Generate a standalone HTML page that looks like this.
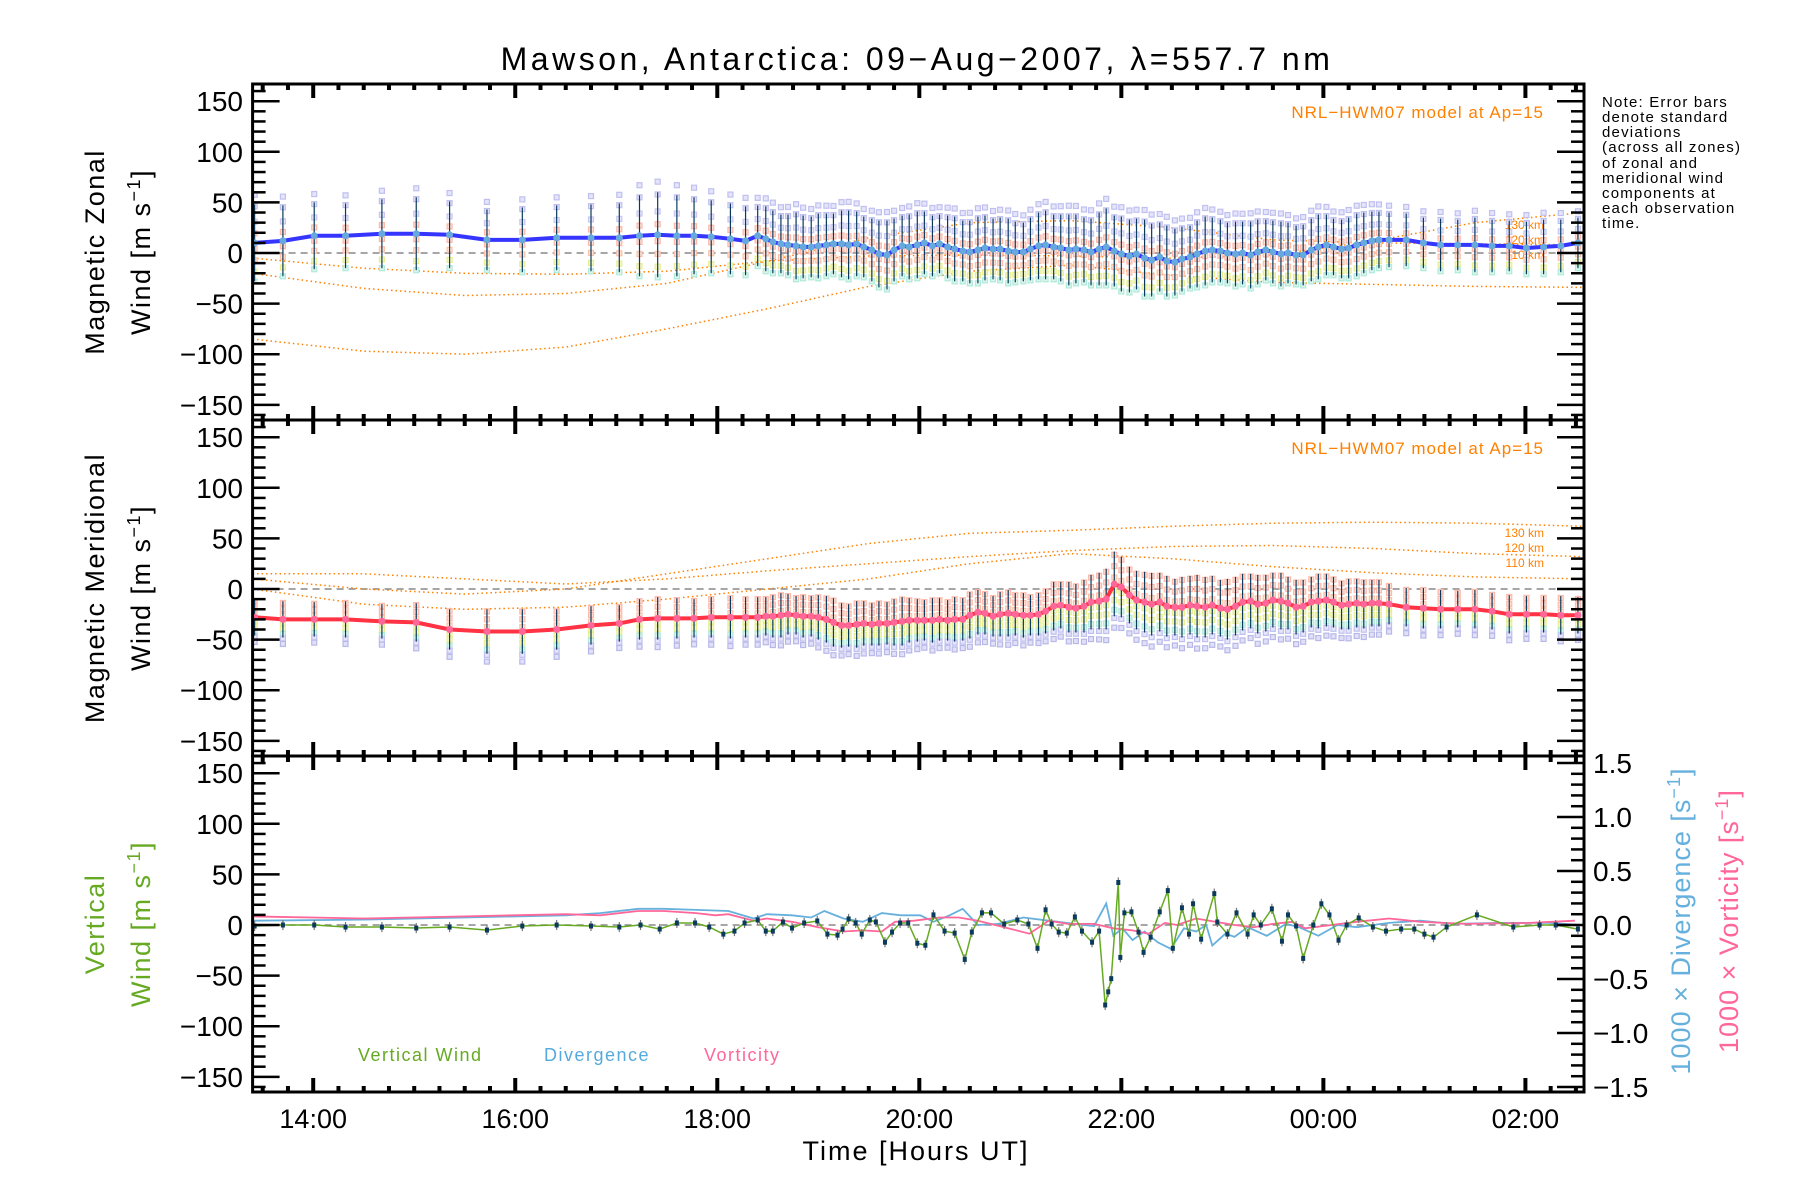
<!DOCTYPE html>
<html><head><meta charset="utf-8"><title>Mawson winds</title>
<style>
html,body{margin:0;padding:0;background:#fff;}
svg{display:block;font-family:"Liberation Sans",sans-serif;}
</style></head>
<body>
<svg id="chart" width="1800" height="1200" viewBox="0 0 1800 1200" xmlns="http://www.w3.org/2000/svg">
<rect x="0" y="0" width="1800" height="1200" fill="#fff"/>
<text x="917" y="70" font-size="32" letter-spacing="3.5" text-anchor="middle" fill="#000">Mawson, Antarctica: 09−Aug−2007, λ=557.7 nm</text>
<g font-size="15" letter-spacing="1.2" fill="#000">
<text x="1602" y="107">Note: Error bars</text>
<text x="1602" y="122">denote standard</text>
<text x="1602" y="137">deviations</text>
<text x="1602" y="152">(across all zones)</text>
<text x="1602" y="168">of zonal and</text>
<text x="1602" y="183">meridional wind</text>
<text x="1602" y="198">components at</text>
<text x="1602" y="213">each observation</text>
<text x="1602" y="228">time.</text>
</g>
<text transform="translate(104,252) rotate(-90)" font-size="27" letter-spacing="1.5" text-anchor="middle">Magnetic Zonal</text>
<text transform="translate(150,252) rotate(-90)" font-size="27" letter-spacing="1.5" text-anchor="middle">Wind [m s<tspan dy="-10" font-size="18">−1</tspan><tspan dy="10">]</tspan></text>
<text transform="translate(104,588) rotate(-90)" font-size="27" letter-spacing="1.5" text-anchor="middle">Magnetic Meridional</text>
<text transform="translate(150,588) rotate(-90)" font-size="27" letter-spacing="1.5" text-anchor="middle">Wind [m s<tspan dy="-10" font-size="18">−1</tspan><tspan dy="10">]</tspan></text>
<text transform="translate(104,924) rotate(-90)" font-size="27" letter-spacing="1.5" text-anchor="middle" fill="#66aa22">Vertical</text>
<text transform="translate(150,924) rotate(-90)" font-size="27" letter-spacing="1.5" text-anchor="middle" fill="#66aa22">Wind [m s<tspan dy="-10" font-size="18">−1</tspan><tspan dy="10">]</tspan></text>
<text transform="translate(1690,921) rotate(-90)" font-size="27" letter-spacing="1" text-anchor="middle" fill="#66b0dd">1000 × Divergence [s<tspan dy="-10" font-size="18">−1</tspan><tspan dy="10">]</tspan></text>
<text transform="translate(1738,921) rotate(-90)" font-size="27" letter-spacing="1" text-anchor="middle" fill="#ff6699">1000 × Vorticity [s<tspan dy="-10" font-size="18">−1</tspan><tspan dy="10">]</tspan></text>
<text x="916" y="1160" font-size="27" letter-spacing="2" text-anchor="middle">Time [Hours UT]</text>
<text x="1544" y="118" font-size="17" letter-spacing="1" text-anchor="end" fill="#ff8000">NRL−HWM07 model at Ap=15</text>
<text x="1544" y="454" font-size="17" letter-spacing="1" text-anchor="end" fill="#ff8000">NRL−HWM07 model at Ap=15</text>
<g font-size="12" fill="#ff8000" text-anchor="end">
<text x="1544" y="229">130 km</text><text x="1544" y="244">120 km</text><text x="1544" y="259">110 km</text>
</g>
<g font-size="12" fill="#ff8000" text-anchor="end">
<text x="1544" y="537">130 km</text><text x="1544" y="552">120 km</text><text x="1544" y="567">110 km</text>
</g>
<text x="358" y="1061" font-size="18" letter-spacing="1.5" fill="#66aa22">Vertical Wind</text>
<text x="544" y="1061" font-size="18" letter-spacing="1.5" fill="#55aadd">Divergence</text>
<text x="704" y="1061" font-size="18" letter-spacing="1.5" fill="#ff6699">Vorticity</text>
</svg>
<script>
// ---- data ----
const obsTime = [13.42,13.70,14.01,14.32,14.68,15.02,15.35,15.72,16.07,16.41,16.75,17.03,17.23,17.41,17.60,17.77,17.94,18.13,18.28,
18.40,18.48,18.55,18.63,18.70,18.78,18.85,18.93,19.00,19.08,19.15,19.23,19.30,19.38,19.45,19.53,19.60,19.68,19.75,19.83,19.90,19.98,20.05,20.13,20.20,20.28,20.35,20.43,20.50,20.58,20.65,20.73,20.80,20.88,20.95,21.03,21.10,21.18,21.25,21.33,21.40,21.48,21.55,21.63,21.70,21.78,21.85,21.93,22.00,22.08,22.15,22.23,22.30,22.38,22.45,22.53,22.60,22.68,22.75,22.83,22.90,22.98,23.05,23.13,23.20,23.28,23.35,23.43,23.50,23.58,23.65,23.73,23.80,23.88,23.95,24.03,24.10,24.18,24.25,24.33,24.40,24.48,24.55,
24.65,24.82,24.99,25.16,25.33,25.50,25.67,25.84,26.01,26.18,26.35,26.52];
const zonalMean = [10,12,17,17,19,19,18,13,13,15,15,15,17,18,17,17,16,14,12,
17,14,11,9,8,7,6,6, 7,8,9,9,8,9,6,3, -1,-2,3,7,6,8,10,7, 9,6,4,2,1,3,5,4, 4,2,1,1,4,7,8,6, 5,3,4,3,1,4,6,2, -1,-3,-1,-5,-7,-4,-8,-9, -6,-4,-1,2,3,2,0,-1, 0,-2,1,3,1,-1,0,-2, -2,3,6,8,6,4,5,8, 10,12,13,
13,13,10,8,8,8,7,7,5,6,7,10];
const zonalSd = [38,35,33,32,34,36,33,30,32,32,33,34,40,42,40,38,36,35,34,
30,32,31,29,30,33,31,30, 32,31,30,33,34,32,30,31, 33,34,31,30,32,33,31,30, 29,31,32,30,31,33,32,30, 31,32,30,29,31,33,34,32, 33,35,34,32,33,36,38,35, 37,36,35,38,36,34,35,33, 32,31,33,34,32,31,30,32, 31,33,32,30,31,32,30,29, 30,31,32,30,28,29,30,31, 30,29,28,
27,26,25,26,25,27,26,25,26,27,26,25];
const meridMean = [-28,-30,-30,-30,-32,-33,-40,-42,-42,-40,-36,-34,-30,-29,-29,-29,-28,-28,-28,
-28,-27,-27,-26,-25,-26,-27,-27, -28,-30,-33,-36,-36,-35,-34,-35, -34,-34,-33,-32,-31,-31,-31,-31, -30,-31,-30,-30,-26,-23,-24,-27, -25,-24,-25,-26,-26,-25,-22,-17, -16,-18,-19,-17,-13,-12,-10,5, 2,-6,-11,-13,-15,-13,-17,-18, -18,-16,-17,-18,-16,-19,-20,-17, -13,-12,-15,-14,-11,-12,-14,-18, -17,-13,-12,-11,-13,-16,-15,-14, -15,-14,-14,
-15,-18,-19,-20,-20,-20,-22,-25,-25,-25,-26,-26];
const meridSd = [18,18,17,18,17,19,20,22,22,20,19,18,20,21,20,19,20,21,20,
20,19,21,22,20,19,21,20, 22,23,24,22,21,23,22,21, 22,21,23,24,22,21,20,22, 21,20,22,21,23,22,21,20, 22,23,21,22,20,21,22,24, 23,25,24,26,27,28,30,32, 30,28,29,30,31,29,30,28, 30,29,31,30,29,28,30,29, 28,27,29,28,27,28,26,27, 26,25,27,26,25,24,25,24, 24,23,23,
20,19,20,19,18,19,18,19,18,18,19,18];
const vertTime = [13.42,13.70,14.01,14.32,14.68,15.02,15.35,15.72,16.07,16.41,16.75,
17.03,17.24,17.43,17.60,17.78,17.92,18.06,18.17,18.27,18.40,18.48,18.55,18.65,18.74,18.86,18.99,19.09,19.19,19.24,19.30,19.37,19.43,19.51,19.57,19.66,19.73,19.81,19.89,19.98,20.06,20.14,20.25,20.35,20.45,20.52,20.62,20.71,20.84,20.97,21.08,21.17,21.25,21.31,21.38,21.46,21.54,21.61,21.71,21.78,21.84,21.87,21.90,21.97,21.99,22.03,22.10,22.17,22.22,22.29,22.38,22.46,22.51,22.60,22.67,22.71,22.79,22.92,22.95,23.05,23.14,23.25,23.31,23.38,23.49,23.59,23.65,23.73,23.80,23.90,23.98,24.06,24.15,24.23,24.35,24.49,24.62,24.77,24.90,25.00,25.09,25.22,25.52,25.88,26.14,26.30,26.52];
const vertWind = [-1,0,0,-2,-2,-3,-2,-5,-1,0,-1,
-2,0,-4,2,2,-2,-9,-6,2,5,-6,-6,3,-3,2,4,-9,-10,-4,6,2,-9,5,3,-17,-7,2,2,-18,-20,10,-6,-8,-34,-7,12,12,1,5,1,-23,15,1,-7,-8,8,-6,-17,-6,-79,-66,-53,42,-32,12,13,-7,-27,-12,13,34,-23,17,-9,21,-14,31,3,-9,12,-9,10,0,16,-16,10,-1,-33,0,21,10,-15,0,7,-2,-6,-4,-4,-9,-12,-2,10,-2,0,0,-4];
const divTime = [13.40,14.50,15.50,16.50,16.84,17.22,17.47,17.79,18.11,18.36,18.49,18.74,18.93,19.06,19.25,19.44,19.63,19.82,20.01,20.14,20.30,20.43,20.58,20.78,21.03,21.28,21.54,21.73,21.85,21.92,22.01,22.11,22.23,22.36,22.49,22.62,22.74,22.84,22.90,23.03,23.12,23.25,23.44,23.63,23.76,23.95,24.14,24.33,24.65,24.96,25.28,25.73,26.23,26.55];
const divergence = [0.04,0.05,0.07,0.09,0.11,0.15,0.15,0.14,0.13,0.06,0.10,0.09,0.07,0.13,0.06,0.03,0.11,0.09,0.09,0.03,0.09,0.15,0.00,0.01,0.07,0.04,0.01,-0.01,0.20,-0.10,-0.03,-0.14,-0.06,-0.16,-0.22,-0.03,-0.06,0.00,-0.19,-0.08,-0.11,-0.02,-0.10,0.01,-0.02,-0.10,0.00,-0.02,0.02,0.04,0.01,0.02,0.02,0.00];
const vortTime = [13.40,14.50,15.50,16.50,16.84,17.22,17.47,17.79,17.98,18.11,18.36,18.49,18.74,19.00,19.25,19.44,19.63,19.76,19.95,20.20,20.39,20.58,20.84,21.09,21.28,21.47,21.73,21.92,22.11,22.27,22.43,22.55,22.74,22.93,23.12,23.31,23.50,23.69,23.82,24.08,24.33,24.65,24.96,25.41,26.04,26.49];
const vorticity = [0.08,0.06,0.08,0.10,0.09,0.13,0.13,0.11,0.09,0.10,0.04,0.06,0.03,-0.02,-0.06,-0.05,-0.06,0.03,0.04,0.07,0.07,0.04,-0.02,-0.08,0.04,0.01,0.01,-0.03,-0.05,-0.08,0.02,0.00,0.06,0.03,0.00,-0.02,0.01,0.03,-0.03,0.00,0.03,0.06,0.03,0.01,0.02,0.04];
const modelTime = [13.4,14.5,15.5,16.5,17.5,18.5,19.5,20.5,21.5,22.5,23.5,24.5,25.5,26.58];
const zonal110 = [-85,-97,-100,-93,-75,-55,-33,-18,-12,-22,-29,-31,-33,-34];
const zonal120 = [-20,-35,-42,-40,-30,-8,15,30,32,25,13,10,9,8];
const zonal130 = [-5,-15,-20,-21,-18,-8,-3,-2,-3,-5,-2,12,30,40];
const merid130 = [10,0,-5,0,15,30,45,55,58,62,65,66,65,62];
const merid120 = [15,15,10,5,10,18,25,32,38,42,43,40,35,32];
const merid110 = [0,-15,-20,-18,-10,0,10,25,35,30,22,16,12,10];
const yTickVals = [150,100,50,0,-50,-100,-150];
const yTickLabels = ['150','100','50','0','−50','−100','−150'];
const rTickVals = [1.5,1.0,0.5,0.0,-0.5,-1.0,-1.5];
const rTickLabels = ['1.5','1.0','0.5','0.0','−0.5','−1.0','−1.5'];
const xTickVals = [14,16,18,20,22,24,26];
const xTickLabels = ['14:00','16:00','18:00','20:00','22:00','00:00','02:00'];

// ---- axes ----
const NS='http://www.w3.org/2000/svg';
const svg=document.getElementById('chart');
const P=[84,420,756], PH=336, L=252.6, R=1584, XMIN=13.4, XMAX=26.58, VTOP=167, VSPAN=332;
function X(h){return L+(h-XMIN)*(R-L)/(XMAX-XMIN);}
function Y(v,p){return P[p]+(VTOP-v)*PH/VSPAN;}
function YR(v){return Y(0,2)-v*108;}
function mk(tag,attrs,parent){const e=document.createElementNS(NS,tag);for(const k in attrs)e.setAttribute(k,attrs[k]);(parent||svg).appendChild(e);return e;}
function ptsStr(ts,vs,f){return ts.map((t,i)=>X(t).toFixed(1)+','+f(vs[i]).toFixed(1)).join(' ');}

const plots=[];
for(let p=0;p<3;p++){
  const g=mk('g',{});
  
  
  plots.push(g);
  const z=mk('line',{x1:L,x2:R,y1:Y(0,p),y2:Y(0,p),stroke:'#888','stroke-width':1.5,'stroke-dasharray':'7,5'},g);
  
  
}

const modelSets=[[0,zonal110,'zonal-model-110km'],[0,zonal120,'zonal-model-120km'],[0,zonal130,'zonal-model-130km'],[1,merid130,'meridional-model-130km'],[1,merid120,'meridional-model-120km'],[1,merid110,'meridional-model-110km']];
modelSets.forEach(ms=>{
  const e=mk('polyline',{points:ptsStr(modelTime,ms[1],v=>Y(v,ms[0])),fill:'none',stroke:'#ff8000','stroke-width':1.5,'stroke-dasharray':'1.5,3'},plots[ms[0]]);
  
  
});

const zoneOff=[[1.25,'#c0c0f0','#e4e4fa'],[0.95,'#c0c0f0','#e4e4fa'],[0.55,'#c8c8f2','#e8e8fb'],[0.25,'#ffb8a8','#ffe0d8'],[-0.15,'#ffb8a8','#ffe0d8'],[-0.45,'#ffc0a8','#ffe4d8'],[-0.75,'#e8ee90','#f6f8cc'],[-1.0,'#b0eada','#dcf6ee']];
const meridOff=[[0.9,'#ffb8a8','#ffe0d8'],[0.55,'#ffb8a8','#ffe0d8'],[0.2,'#ffc0a8','#ffe4d8'],[-0.2,'#e8ee90','#f6f8cc'],[-0.5,'#e8ee90','#f6f8cc'],[-0.8,'#b0eada','#dcf6ee'],[-1.05,'#c0c0f0','#e4e4fa'],[-1.35,'#b8b8e8','#e0e0f8']];
function drawComp(p,mean,sd,offs,lineCol,dotCol,nm){
  const g=plots[p];
  obsTime.forEach((t,i)=>{
    offs.forEach(o=>{
      const r=mk('rect',{x:X(t)-2.5,y:Y(mean[i]+o[0]*sd[i],p)-2.5,width:5,height:5,fill:o[2],stroke:o[1],'stroke-width':1.2},g);
      
      
    });
  });
  obsTime.forEach((t,i)=>{
    const l=mk('line',{x1:X(t),x2:X(t),y1:Y(mean[i]+sd[i],p),y2:Y(mean[i]-sd[i],p),stroke:'#0b3a5c','stroke-width':1.2},g);
    
    
  });
  const pl=mk('polyline',{points:ptsStr(obsTime,mean,v=>Y(v,p)),fill:'none',stroke:lineCol,'stroke-width':4},g);
  
  
  obsTime.forEach((t,i)=>{
    const c=mk('circle',{cx:X(t),cy:Y(mean[i],p),r:3.5,fill:dotCol},g);
    
    
  });
}
drawComp(0,zonalMean,zonalSd,zoneOff,'#3535ff','#66aadd','zonal');
drawComp(1,meridMean,meridSd,meridOff,'#ff3344','#ff6699','meridional');

const divL=mk('polyline',{points:ptsStr(divTime,divergence,YR),fill:'none',stroke:'#66b0dd','stroke-width':1.8},plots[2]);


const vorL=mk('polyline',{points:ptsStr(vortTime,vorticity,YR),fill:'none',stroke:'#ff6699','stroke-width':1.8},plots[2]);


vertTime.forEach((t,i)=>{
  const l=mk('line',{x1:X(t),x2:X(t),y1:Y(vertWind[i]+5,2),y2:Y(vertWind[i]-5,2),stroke:'#777','stroke-width':1.2},plots[2]);
  
  
});
const vl=mk('polyline',{points:ptsStr(vertTime,vertWind,v=>Y(v,2)),fill:'none',stroke:'#66aa22','stroke-width':1.5},plots[2]);


vertTime.forEach((t,i)=>{
  const r=mk('rect',{x:X(t)-2,y:Y(vertWind[i],2)-2.5,width:4,height:5,fill:'#0b3a5c'},plots[2]);
  
  
});

const ax=mk('g',{stroke:'#000'});


for(let p=0;p<3;p++){
  const fr=mk('rect',{x:L,y:P[p],width:R-L,height:PH,fill:'none','stroke-width':3},ax);
  
  
  for(let v=-160;v<=160;v+=10){
    const y=Y(v,p); const maj=(v%50===0); const len=maj?27:13;
    const t=mk('line',{x1:L,x2:L+len,y1:y,y2:y,'stroke-width':2.5},ax);
    
    
    if(p<2){
      const t2=mk('line',{x1:R,x2:R-len,y1:y,y2:y,'stroke-width':2.5},ax);
      
      
    }
  }
  yTickVals.forEach((v,i)=>{
    const tx=mk('text',{x:243,y:Y(v,p)+10,'font-size':28,'text-anchor':'end',stroke:'none',fill:'#000'},ax);
    tx.textContent=yTickLabels[i];
    
    
  });
  for(let h=13.5;h<=XMAX;h+=0.25){
    const x=X(h); const maj=Math.abs(h/2-Math.round(h/2))<1e-6; const len=maj?14:6;
    [P[p],P[p]+PH].forEach((yb,k)=>{
      const t=mk('line',{x1:x,x2:x,y1:yb,y2:k===0?yb+len:yb-len,'stroke-width':4},ax);
      
      
    });
  }
}
for(let v=-1.5;v<=1.55;v+=0.1){
  const y=YR(v); const maj=Math.abs(v*2-Math.round(v*2))<1e-6; const len=maj?27:13;
  const t=mk('line',{x1:R,x2:R-len,y1:y,y2:y,'stroke-width':2.5},ax);
  
  
}
rTickVals.forEach((v,i)=>{
  const tx=mk('text',{x:1593,y:YR(v)+10,'font-size':28,stroke:'none',fill:'#000'},ax);
  tx.textContent=rTickLabels[i];
  
  
});
xTickVals.forEach((h,i)=>{
  const tx=mk('text',{x:X(h),y:1128,'font-size':27,'text-anchor':'middle',stroke:'none',fill:'#000'},ax);
  tx.textContent=xTickLabels[i];
  
  
});
</script>
</body></html>
